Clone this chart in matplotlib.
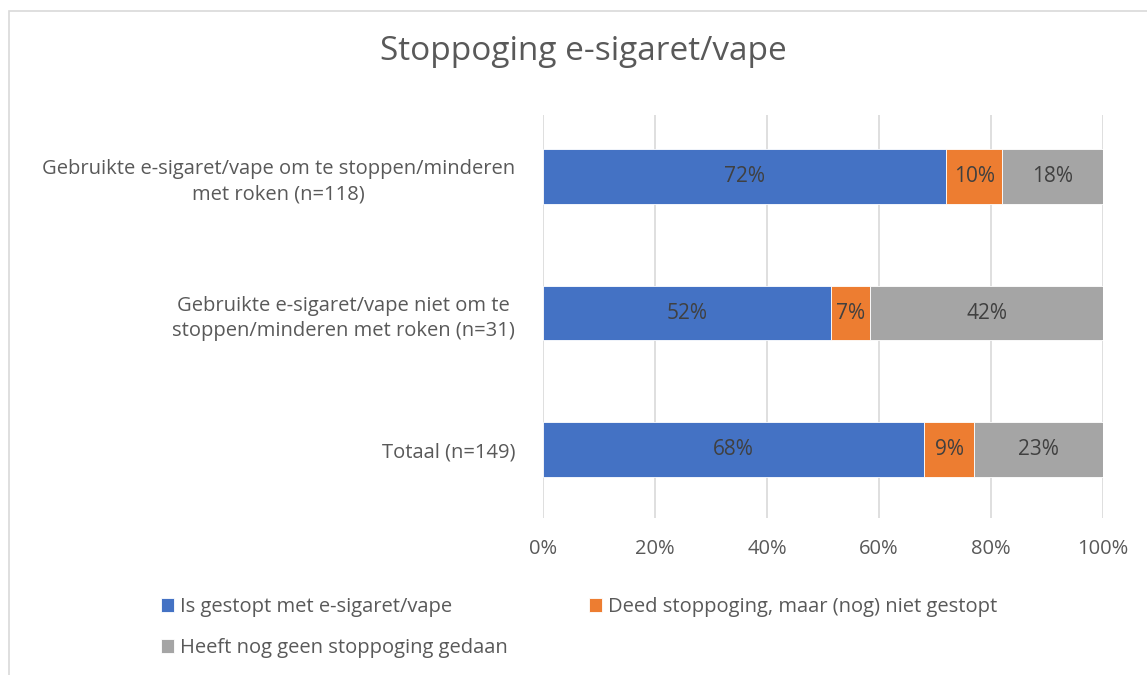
import matplotlib
matplotlib.use("Agg")
import matplotlib.pyplot as plt
import numpy as np
from matplotlib.patches import Rectangle
from matplotlib.ticker import PercentFormatter

# --- Data ---
categories = [
    "Gebruikte e-sigaret/vape om te stoppen/minderen\nmet roken (n=118)",
    "Gebruikte e-sigaret/vape niet om te\nstoppen/minderen met roken (n=31)",
    "Totaal (n=149)",
]
series_names = [
    "Is gestopt met e-sigaret/vape",
    "Deed stoppoging, maar (nog) niet gestopt",
    "Heeft nog geen stoppoging gedaan",
]
gestopt = [72, 52, 68]
poging = [10, 7, 9]
geen = [18, 42, 23]

# --- Style ---
COLORS = ["#4472C4", "#ED7D31", "#A5A5A5"]
TEXT = "#595959"
LABEL = "#404040"
GRID = "#D9D9D9"
FONT = ["Open Sans", "DejaVu Sans"]

plt.rcParams["font.family"] = FONT

fig = plt.figure(figsize=(11.47, 6.75), dpi=100)
fig.patch.set_facecolor("white")

# chart border (light frame, partly cut off at right/bottom)
fig.patches.append(Rectangle((9 / 1147, -0.05), 1.2, 1 - 11 / 675 + 0.05,
                             transform=fig.transFigure, fill=False,
                             edgecolor=GRID, linewidth=1.2))

ax = fig.add_axes([543 / 1147, 1 - 518 / 675, 560 / 1147, 403 / 675])

# 100% stacked: normalise each row
data = np.array([gestopt, poging, geen], dtype=float)
share = data / data.sum(axis=0) * 100

y = np.arange(len(categories))
left = np.zeros(len(categories))
for i, name in enumerate(series_names):
    bars = ax.barh(y, share[i], left=left, height=0.4, color=COLORS[i],
                   edgecolor="white", linewidth=0.6, label=name, zorder=3)
    for j, b in enumerate(bars):
        ax.text(left[j] + share[i][j] / 2, y[j], f"{int(data[i][j])}%",
                ha="center", va="center", fontsize=15, color=LABEL, zorder=4)
    left += share[i]

ax.set_xlim(0, 100)
ax.set_ylim(2.5, -0.45)
ax.set_xticks(np.arange(0, 101, 20))
ax.xaxis.set_major_formatter(PercentFormatter(decimals=0))
ax.set_yticks(y)
ax.set_yticklabels(categories, multialignment="center", linespacing=1.35)
ax.tick_params(axis="both", length=0, labelsize=14.5, labelcolor=TEXT)
ax.tick_params(axis="x", pad=15)
ax.tick_params(axis="y", pad=20)
ax.grid(axis="x", color=GRID, linewidth=1.2, zorder=0)
for s in ax.spines.values():
    s.set_visible(False)

fig.text(583 / 1147, 1 - 52 / 675, "Stoppoging e-sigaret/vape", ha="center",
         va="center", fontsize=24, color=TEXT)

# legend: column-major fill -> blue, gray in col 1, orange in col 2
handles, labels = ax.get_legend_handles_labels()
order = [0, 2, 1]
leg = fig.legend([handles[k] for k in order], [labels[k] for k in order],
                 ncol=2, loc="upper left", bbox_to_anchor=(143 / 1147, 1 - 579 / 675),
                 frameon=False, fontsize=14.5, handlelength=0.65, handleheight=0.65,
                 handletextpad=0.3, columnspacing=4.0, labelspacing=1.05,
                 labelcolor=TEXT)

fig.savefig("out.png", dpi=100)
